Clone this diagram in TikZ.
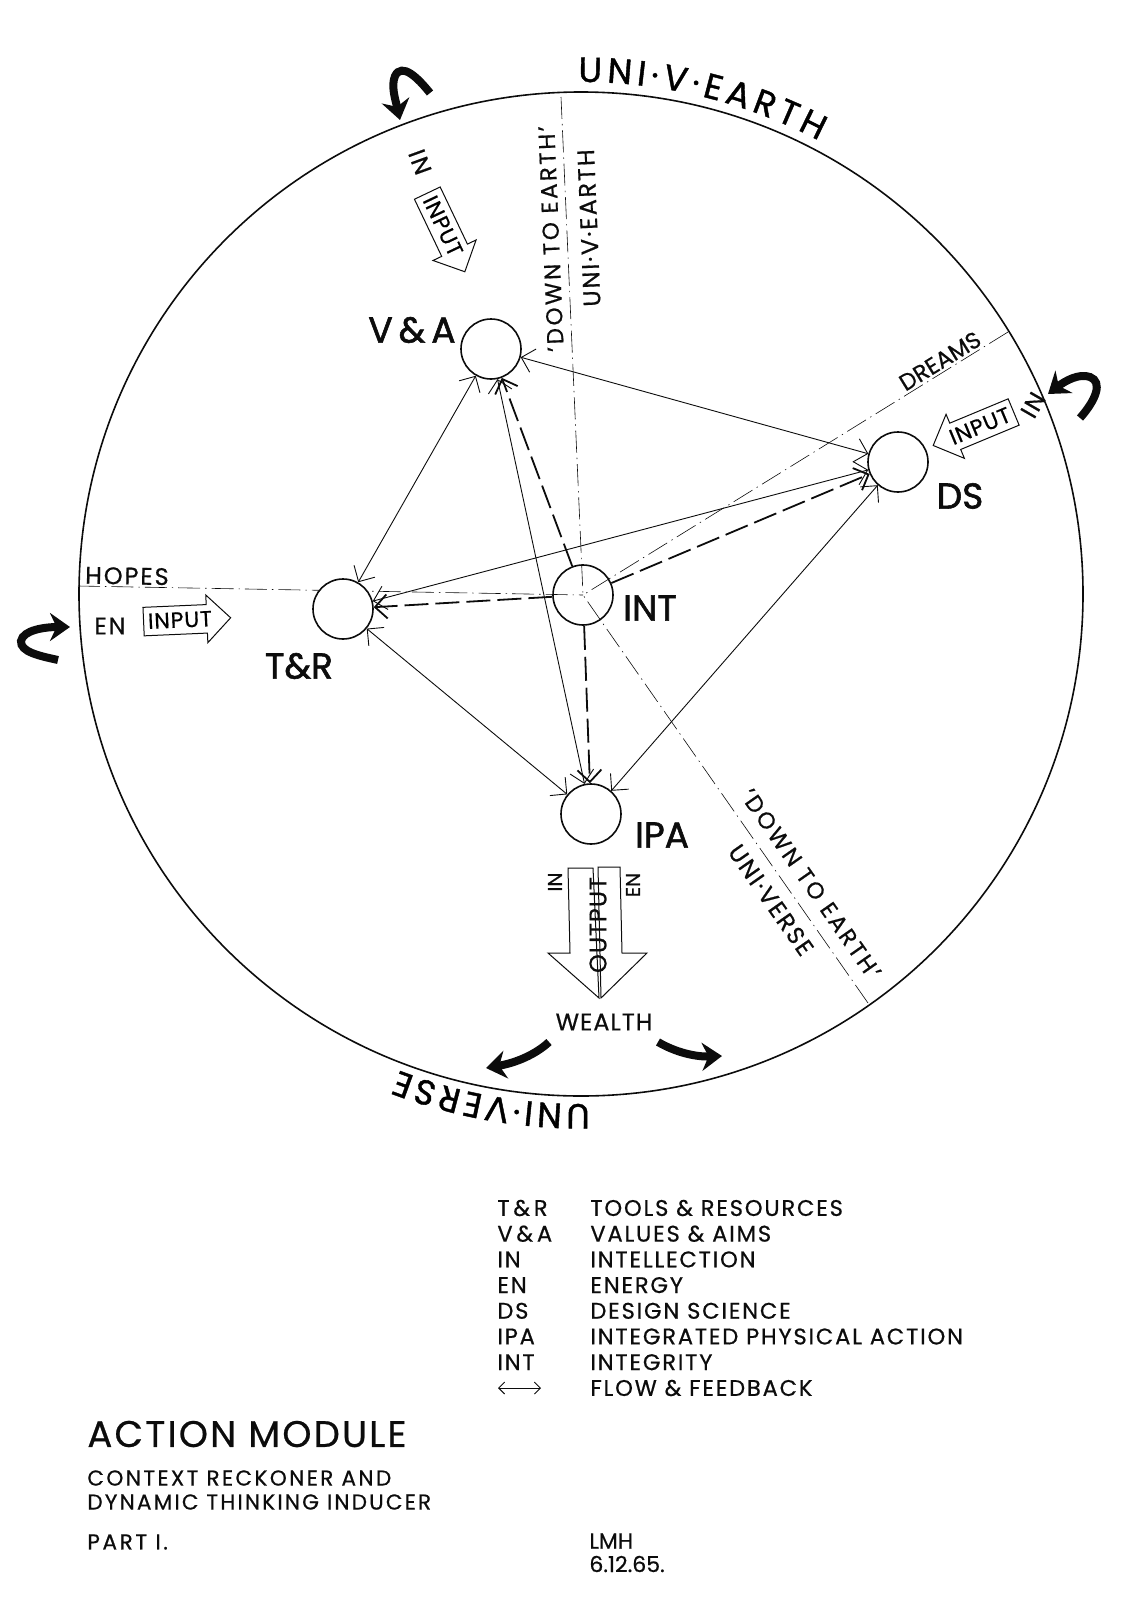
\documentclass[tikz,border=0pt]{standalone}
\usepackage{fontspec}
\setmainfont{Poppins}[FakeBold=0.6]
\usepackage{tikz}
\usetikzlibrary{arrows.meta,positioning,decorations.text,shapes.arrows}
\definecolor{ink}{RGB}{12,12,12}
\tikzset{
  rimln/.style={line width=0.8pt, draw=ink},
  hubnode/.style={circle, draw=ink, line width=0.8pt, minimum size=30pt,
    inner sep=0pt, fill=white},
  flowln/.style={{Straight Barb[length=6pt,width=12pt]}-{Straight Barb[length=6pt,width=12pt]},
    line width=0.45pt, ink},
  intln/.style={-{Straight Barb[length=6pt,width=12pt]}, line width=0.9pt,
    dash pattern=on 12pt off 3.5pt, ink},
  axisdd/.style={line width=0.3pt, ink,
    dash pattern=on 11pt off 2.5pt on 0.7pt off 2.5pt},
  bigtag/.style={font=\fontsize{18}{18}\selectfont\addfontfeature{FakeBold=1.6}, ink, inner sep=0pt},
  smalltag/.style={font=\fontsize{12}{12}\selectfont\addfontfeature{LetterSpace=8}, ink, inner sep=0pt},
  earthtag/.style={font=\fontsize{11.5}{12}\selectfont\addfontfeature{LetterSpace=11}, ink, inner sep=0pt},
  inarrow/.style={single arrow, draw=ink, line width=0.5pt, fill=white,
    single arrow head extend=4.8pt, single arrow tip angle=90,
    inner xsep=2pt, inner ysep=3pt, font=\fontsize{11}{11}\selectfont\addfontfeature{LetterSpace=4}},
  outarrow/.style={draw=ink, line width=0.5pt, line join=miter},
  hookarr/.style={line width=4pt, ink, -{Stealth[length=10pt,width=14pt]}},
  legtext/.style={font=\fontsize{11.3}{12}\selectfont\addfontfeature{LetterSpace=8},
    anchor=west, inner sep=0pt, ink},
  legarr/.style={{Straight Barb[length=3pt,width=6pt]}-{Straight Barb[length=3pt,width=6pt]},
    line width=0.45pt, ink},
  titletext/.style={anchor=west, inner sep=0pt, ink},
}

\begin{document}
\begin{tikzpicture}[x=0.5pt,y=0.5pt]
    \useasboundingbox (0,0) rectangle (1123,-1600);
    % --- the big circle and its captions ---
    \coordinate (O) at (581,-594);
    \draw[rimln] (O) circle[radius=502];
    \path[decorate, decoration={text along path, text align={fit to path},
      text={|\fontsize{17.5}{17.5}\selectfont\addfontfeature{FakeBold=1.2}|UNI·V·EARTH}}]
      (578.3,-82) arc[start angle=90.3, end angle=62.3, radius=512];
    \path[decorate, decoration={text along path, text align={fit to path},
      text={|\fontsize{17.5}{17.5}\selectfont\addfontfeature{FakeBold=1.2}|UNI·VERSE}}]
      (589.9,-1104) arc[start angle=-89, end angle=-111, radius=510];
    % hooked arrows round the rim
    \draw[hookarr] (430,-93) .. controls (418,-78) and (402,-62) .. (395,-76)
      .. controls (391,-86) and (395,-98) .. (400,-120);
    \draw[hookarr] (1080,-418) .. controls (1096,-400) and (1103,-382) .. (1090,-377)
      .. controls (1079,-373) and (1065,-381) .. (1048,-394);
    \draw[hookarr] (58,-660) .. controls (40,-656) and (20,-652) .. (21,-641)
      .. controls (23,-630) and (45,-627) .. (70,-627);
    \draw[hookarr] (549,-1042) .. controls (535,-1055) and (515,-1063) .. (486,-1068);
    \draw[hookarr] (658,-1042) .. controls (675,-1052) and (695,-1057) .. (722,-1056);
    % --- dash-dot axes through INT ---
    \coordinate (ctr) at (583,-595);
    \coordinate (topend) at (561,-97);
    \coordinate (dreamend) at (1008,-332);
    \coordinate (hopeend) at (78,-586);
    \coordinate (lowend) at (868,-1003);
    \draw[axisdd] (topend) -- (ctr);
    \draw[axisdd] (dreamend) -- (ctr);
    \draw[axisdd] (hopeend) -- (ctr);
    \draw[axisdd] (lowend) -- (ctr);
    \node[earthtag, rotate=92.4] (dtetop) at (551,-239) {'DOWN TO EARTH'};
    \node[smalltag, rotate=92.4] (uvetop) at (589,-228) {UNI·V·EARTH};
    \node[smalltag, rotate=31.7, font=\fontsize{11.5}{12}\selectfont] (dreams) at (940,-361) {DREAMS};
    \node[smalltag, rotate=-1] (hopes) at (127,-576) {HOPES};
    \node[earthtag, rotate=-55] (dtelow) at (811,-884) {'DOWN TO EARTH'};
    \node[smalltag, rotate=-55] (uvslow) at (771,-900) {UNI·VERSE};
    % --- the five centres ---
    \node[hubnode] (va) at (491,-349) {};
    \node[hubnode] (ds) at (898,-462) {};
    \node[hubnode] (tr) at (343,-609) {};
    \node[hubnode, fill=none] (int) at (583,-595) {};
    \node[hubnode] (ipa) at (591,-814) {};
    \node[bigtag] (valbl) at (412,-330) {V\,\&\,A};
    \node[bigtag] (dslbl) at (960,-496) {DS};
    \node[bigtag] (trlbl) at (299,-666) {T\&R};
    \node[bigtag] (intlbl) at (650,-608) {INT};
    \node[bigtag] (ipalbl) at (662,-835) {IPA};
    % flow and feedback
    \draw[flowln] (va) -- (tr);
    \draw[flowln] (va) -- (ds);
    \draw[flowln] (va) -- (ipa);
    \draw[flowln] (tr) -- (ds);
    \draw[flowln] (tr) -- (ipa);
    \draw[flowln] (ds) -- (ipa);
    % integrity lines
    \draw[intln] (int) -- (va);
    \draw[intln] (int) -- (tr);
    \draw[intln] (int) -- (ds);
    \draw[intln] (int) -- (ipa);
    % --- inputs ---
    \node[inarrow, rotate=-64.5] (intop) at (443,-226) {INPUT};
    \node[smalltag, rotate=-70] (intoplbl) at (420,-162) {IN};
    \node[inarrow, rotate=22.6, shape border rotate=180] (inds) at (980,-426) {INPUT};
    \node[smalltag, rotate=60] (indslbl) at (1033,-405) {IN};
    \node[inarrow, rotate=2.5] (intr) at (180,-620) {INPUT};
    \node[smalltag] (entrlbl) at (110,-626) {EN};
    % --- output ---
    \draw[outarrow] (593,-868) -- (568,-868) -- (570,-953) -- (548,-953) -- (599,-998) -- cycle;
    \draw[outarrow] (598,-867) -- (620,-867) -- (622,-953) -- (647,-953) -- (601,-998) -- cycle;
    \node[smalltag, font=\fontsize{12}{12}\selectfont\addfontfeature{LetterSpace=4}, rotate=90] (outlbl) at (598,-925) {OUTPUT};
    \node[smalltag, font=\fontsize{10}{10}\selectfont, rotate=90] (inout) at (555,-882) {IN};
    \node[smalltag, font=\fontsize{10}{10}\selectfont, rotate=90] (enout) at (633,-885) {EN};
    \node[smalltag, font=\fontsize{12}{12}\selectfont\addfontfeature{LetterSpace=4}] (wealth) at (604,-1022) {WEALTH};
    % --- key ---
    \node[legtext] (ab1) at (497,-1208) {T\,\&\,R};
    \node[legtext] (fu1) at (590,-1208) {TOOLS \& RESOURCES};
    \node[legtext] (ab2) at (497,-1233.7) {V\,\&\,A};
    \node[legtext] (fu2) at (590,-1233.7) {VALUES \& AIMS};
    \node[legtext] (ab3) at (497,-1259.4) {IN};
    \node[legtext] (fu3) at (590,-1259.4) {INTELLECTION};
    \node[legtext] (ab4) at (497,-1285.1) {EN};
    \node[legtext] (fu4) at (590,-1285.1) {ENERGY};
    \node[legtext] (ab5) at (497,-1310.8) {DS};
    \node[legtext] (fu5) at (590,-1310.8) {DESIGN SCIENCE};
    \node[legtext] (ab6) at (497,-1336.5) {IPA};
    \node[legtext] (fu6) at (590,-1336.5) {INTEGRATED PHYSICAL ACTION};
    \node[legtext] (ab7) at (497,-1362.2) {INT};
    \node[legtext] (fu7) at (590,-1362.2) {INTEGRITY};
    \coordinate (legl) at (498,-1388);
    \coordinate (legr) at (541,-1388);
    \draw[legarr] (legl) -- (legr);
    \node[legtext] (fu8) at (590,-1388) {FLOW \& FEEDBACK};
    % --- title block ---
    \node[titletext, font=\fontsize{18.5}{19}\selectfont\addfontfeature{LetterSpace=6}] (title) at (87,-1434) {ACTION MODULE};
    \node[titletext, font=\fontsize{10.8}{12}\selectfont\addfontfeature{LetterSpace=11}] (sub1) at (87,-1478) {CONTEXT RECKONER AND};
    \node[titletext, font=\fontsize{10.8}{12}\selectfont\addfontfeature{LetterSpace=10}] (sub2) at (87,-1502) {DYNAMIC THINKING INDUCER};
    \node[titletext, font=\fontsize{10.8}{12}\selectfont\addfontfeature{LetterSpace=12}] (part) at (87,-1542) {PART I.};
    \node[titletext, font=\fontsize{11}{12}\selectfont] (lmh) at (589,-1541) {LMH};
    \node[titletext, font=\fontsize{11}{12}\selectfont] (date) at (589,-1564) {6.12.65.};
\end{tikzpicture}
\end{document}
